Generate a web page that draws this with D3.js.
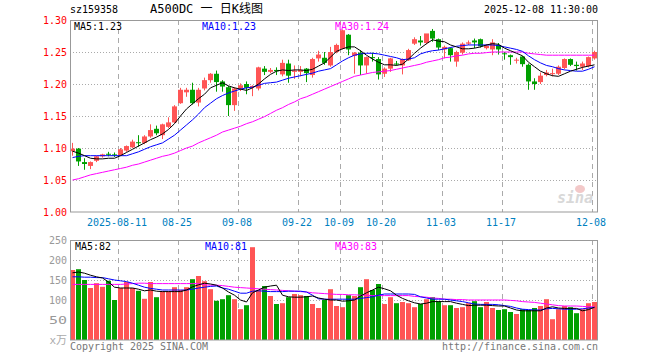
<!DOCTYPE html>
<html><head><meta charset="utf-8">
<script src="https://cdn.jsdelivr.net/npm/d3@7"></script>
<style>
html,body{margin:0;padding:0;background:#fff;}
svg{display:block;}
text{font-family:"DejaVu Sans Mono","Liberation Mono","Noto Sans CJK SC",monospace;}
</style></head>
<body>
<svg id="c" width="660" height="360"></svg>
<script>
const dates = ["07-30","07-31","08-01","08-04","08-05","08-06","08-07","08-08",
"08-11","08-12","08-13","08-14","08-15","08-18","08-19","08-20","08-21","08-22",
"08-25","08-26","08-27","08-28","08-29","09-01","09-02","09-03","09-04","09-05",
"09-08","09-09","09-10","09-11","09-12","09-15","09-16","09-17","09-18","09-19",
"09-22","09-23","09-24","09-25","09-26","09-29","09-30","10-09","10-10",
"10-13","10-14","10-15","10-16","10-17","10-20","10-21","10-22","10-23","10-24",
"10-27","10-28","10-29","10-30","10-31","11-03","11-04","11-05","11-06","11-07",
"11-10","11-11","11-12","11-13","11-14","11-17","11-18","11-19","11-20","11-21",
"11-24","11-25","11-26","11-27","11-28","12-01","12-02","12-03","12-04","12-05","12-08"];

const open  = [1.095,1.099,1.078,1.072,1.080,1.087,1.091,1.090,1.089,1.096,1.101,1.109,1.108,1.118,1.130,1.120,1.133,1.140,1.170,1.187,1.191,1.171,1.193,1.206,1.216,1.204,1.195,1.167,1.193,1.200,1.195,1.193,1.224,1.219,1.222,1.215,1.232,1.219,1.219,1.224,1.214,1.240,1.241,1.229,1.250,1.255,1.277,1.244,1.249,1.229,1.242,1.239,1.216,1.224,1.232,1.229,1.237,1.263,1.268,1.264,1.283,1.270,1.254,1.256,1.235,1.249,1.263,1.268,1.270,1.256,1.254,1.261,1.248,1.245,1.237,1.243,1.230,1.204,1.203,1.214,1.216,1.216,1.225,1.239,1.230,1.227,1.228,1.240];
const high  = [1.108,1.100,1.084,1.079,1.088,1.091,1.094,1.093,1.100,1.104,1.113,1.120,1.120,1.137,1.135,1.138,1.148,1.167,1.194,1.194,1.202,1.194,1.210,1.217,1.221,1.206,1.197,1.195,1.201,1.204,1.198,1.227,1.228,1.225,1.226,1.238,1.238,1.229,1.228,1.225,1.241,1.252,1.250,1.258,1.263,1.285,1.278,1.250,1.253,1.243,1.249,1.242,1.226,1.241,1.236,1.240,1.255,1.273,1.275,1.278,1.286,1.271,1.260,1.257,1.252,1.265,1.268,1.271,1.271,1.262,1.270,1.264,1.250,1.246,1.241,1.244,1.232,1.209,1.218,1.222,1.224,1.229,1.240,1.240,1.235,1.235,1.243,1.252];
const low   = [1.088,1.072,1.066,1.067,1.078,1.085,1.087,1.086,1.088,1.094,1.100,1.102,1.106,1.116,1.120,1.114,1.131,1.139,1.169,1.180,1.168,1.165,1.190,1.202,1.188,1.188,1.150,1.158,1.189,1.184,1.181,1.190,1.214,1.217,1.214,1.212,1.202,1.208,1.212,1.203,1.210,1.235,1.230,1.227,1.248,1.254,1.245,1.216,1.214,1.216,1.235,1.207,1.211,1.219,1.229,1.215,1.236,1.261,1.260,1.262,1.266,1.253,1.240,1.235,1.227,1.246,1.261,1.256,1.257,1.254,1.245,1.246,1.238,1.230,1.232,1.227,1.191,1.191,1.200,1.212,1.212,1.214,1.223,1.228,1.221,1.222,1.226,1.238];
const close = [1.099,1.079,1.075,1.078,1.087,1.090,1.090,1.089,1.098,1.103,1.110,1.108,1.118,1.128,1.123,1.137,1.140,1.165,1.191,1.191,1.170,1.191,1.206,1.216,1.203,1.196,1.167,1.193,1.198,1.194,1.197,1.226,1.219,1.222,1.220,1.233,1.213,1.221,1.222,1.217,1.239,1.246,1.233,1.250,1.261,1.284,1.254,1.249,1.229,1.242,1.241,1.215,1.224,1.240,1.231,1.239,1.253,1.270,1.265,1.279,1.271,1.257,1.258,1.245,1.250,1.263,1.265,1.265,1.259,1.260,1.265,1.254,1.247,1.242,1.238,1.231,1.204,1.200,1.213,1.218,1.217,1.227,1.239,1.230,1.228,1.232,1.242,1.250];

const ma5  = [1.095,1.092,1.088,1.084,1.083,1.083,1.084,1.084,1.088,1.093,1.098,1.103,1.108,1.113,1.117,1.122,1.129,1.138,1.150,1.161,1.169,1.177,1.184,1.194,1.198,1.202,1.197,1.194,1.192,1.190,1.194,1.200,1.208,1.215,1.220,1.222,1.221,1.222,1.222,1.221,1.223,1.228,1.233,1.242,1.251,1.255,1.258,1.258,1.252,1.245,1.239,1.234,1.230,1.230,1.229,1.231,1.239,1.248,1.256,1.263,1.269,1.267,1.266,1.261,1.258,1.255,1.255,1.256,1.258,1.261,1.263,1.262,1.256,1.252,1.248,1.244,1.234,1.227,1.220,1.216,1.213,1.212,1.216,1.220,1.223,1.226,1.228,1.230];
const ma10 = [1.085,1.087,1.088,1.088,1.088,1.088,1.088,1.088,1.088,1.088,1.091,1.094,1.098,1.102,1.105,1.108,1.114,1.120,1.128,1.136,1.144,1.153,1.163,1.170,1.177,1.182,1.186,1.189,1.192,1.194,1.195,1.198,1.201,1.202,1.203,1.206,1.209,1.211,1.213,1.215,1.217,1.220,1.222,1.224,1.230,1.236,1.241,1.245,1.247,1.248,1.248,1.247,1.245,1.243,1.241,1.238,1.239,1.241,1.247,1.250,1.252,1.253,1.255,1.257,1.259,1.260,1.261,1.261,1.261,1.261,1.261,1.260,1.258,1.256,1.254,1.251,1.244,1.238,1.233,1.229,1.227,1.224,1.222,1.221,1.220,1.220,1.223,1.227];
const ma30 = [1.050,1.052,1.055,1.058,1.060,1.062,1.064,1.066,1.068,1.070,1.073,1.075,1.078,1.081,1.084,1.087,1.089,1.092,1.096,1.100,1.103,1.108,1.112,1.116,1.120,1.125,1.128,1.131,1.134,1.138,1.141,1.145,1.149,1.154,1.159,1.163,1.168,1.172,1.177,1.180,1.184,1.188,1.192,1.196,1.200,1.204,1.208,1.212,1.214,1.216,1.218,1.219,1.220,1.221,1.223,1.225,1.227,1.229,1.231,1.234,1.236,1.238,1.241,1.242,1.244,1.245,1.247,1.248,1.248,1.249,1.250,1.250,1.250,1.250,1.250,1.250,1.248,1.247,1.246,1.245,1.245,1.245,1.245,1.245,1.245,1.245,1.245,1.245];

const volume = [175,177,150,130,142,133,148,100,130,145,130,123,103,145,107,122,122,132,125,132,152,160,147,127,98,102,112,102,77,87,232,125,135,110,90,92,107,115,112,110,90,80,100,127,85,82,112,110,132,152,125,140,90,107,92,95,92,82,90,102,107,97,87,87,80,82,92,97,82,95,80,75,77,70,65,77,75,80,85,102,52,77,85,82,67,77,92,95];
const vma5  = [168,170,167,162,158,155,145,132,130,130,130,127,123,125,122,121,121,121,121,125,133,138,142,140,137,130,120,112,100,95,118,125,132,135,137,112,108,107,107,108,110,105,102,100,100,97,98,100,110,118,125,132,128,123,112,104,98,93,90,92,96,96,96,96,92,89,86,87,87,87,86,85,85,80,75,73,73,73,73,80,83,80,79,79,79,73,76,82];
const vma10 = [158,158,157,157,156,156,153,150,148,146,142,137,132,129,127,125,125,125,125,125,127,130,132,134,135,130,127,122,117,117,122,123,122,121,121,121,122,122,122,120,112,103,102,102,102,102,102,102,104,106,108,112,115,115,115,115,115,114,108,105,102,102,102,100,98,96,93,90,89,89,89,88,86,84,80,77,76,75,75,78,79,78,77,77,77,78,80,81];
const vma30 = [139,139,139,139,139,139,139,139,139,140,141,142,142,141,141,141,141,141,141,141,141,141,138,137,137,136,134,132,131,130,129,128,127,126,125,124,123,122,121,120,118,117,116,115,114,114,113,113,112,112,111,111,111,111,111,111,111,109,108,107,105,104,102,102,101,101,100,100,100,100,100,100,100,99,98,96,95,94,92,90,88,86,85,85,85,84,83,83];

const tickDates  = ["08-11","08-25","09-08","09-22","10-09","10-20","11-03","11-17","12-08"];
const tickLabels = ["2025-08-11","08-25","09-08","09-22","10-09","10-20","11-03","11-17","12-08"];
const priceTicks = [1.00,1.05,1.10,1.15,1.20,1.25,1.30];
const volTicks = [50,100,150,200,250];

const RED = "#ff5555", GREEN = "#00a000", GRID = "#aaaaaa";
const svg = d3.select("#c");
const L = 70, R = 598;
const x = d3.scaleBand().domain(dates).range([L, R]).padding(0);
const yP = d3.scaleLinear().domain([1.00, 1.30]).range([212, 20]);
const yV = d3.scaleLinear().domain([0, 250]).range([340, 240]);
const bw = x.bandwidth() - 1;

function mono(sel, str, xx, yy, anchor, color, w) {
  const t = svg.append("text").attr("x", xx).attr("y", yy).attr("text-anchor", anchor || "start")
    .attr("fill", color || "#000").attr("font-size", 11).text(str);
  if (w) t.attr("textLength", w).attr("lengthAdjust", "spacingAndGlyphs");
  return t;
}
// title
mono(svg, "sz159358", 70, 13, "start", "#000", 48);
svg.append("text").attr("x", 150).attr("y", 13).attr("font-size", 12).attr("fill", "#000")
  .attr("font-family", "'Noto Sans CJK SC','DejaVu Sans Mono',monospace").text("A500DC 一 日K线图");
mono(svg, "2025-12-08 11:30:00", 598, 13, "end", "#000", 114);

// price grid
const gP = svg.append("g");
gP.selectAll("line.h").data(priceTicks.filter(t => t > 1.0 && t < 1.3)).enter().append("line")
  .attr("x1", L).attr("x2", R).attr("y1", d => Math.round(yP(d)) + 0.5).attr("y2", d => Math.round(yP(d)) + 0.5)
  .attr("stroke", GRID).attr("stroke-dasharray", "1,2");
gP.selectAll("line.v").data(tickDates).enter().append("line")
  .attr("x1", d => x(d) + 0.5).attr("x2", d => x(d) + 0.5).attr("y1", 20).attr("y2", 212)
  .attr("stroke", GRID).attr("stroke-dasharray", "5,4");
// volume grid
const gV = svg.append("g");
gV.selectAll("line.h").data(volTicks.filter(t => t < 250)).enter().append("line")
  .attr("x1", L).attr("x2", R).attr("y1", d => Math.round(yV(d)) + 0.5).attr("y2", d => Math.round(yV(d)) + 0.5)
  .attr("stroke", GRID).attr("stroke-dasharray", "1,2");
gV.selectAll("line.v").data(tickDates).enter().append("line")
  .attr("x1", d => x(d) + 0.5).attr("x2", d => x(d) + 0.5).attr("y1", 240).attr("y2", 340)
  .attr("stroke", GRID).attr("stroke-dasharray", "5,4");

// watermark
const wm = svg.append("g");
wm.append("ellipse").attr("cx", 580).attr("cy", 189).attr("rx", 5).attr("ry", 4).attr("fill", "#f3c9c9");
wm.append("text").attr("x", 593).attr("y", 203).attr("text-anchor", "end").attr("font-size", 15)
  .attr("font-weight", "bold").attr("font-style", "italic").attr("fill", "#d8d8d8")
  .attr("font-family", "'DejaVu Sans',sans-serif").text("sina");

// candles
const idx = d3.range(dates.length);
const gc = svg.append("g");
gc.selectAll("rect.w").data(idx).enter().append("rect")
  .attr("x", i => x(dates[i]) + 2).attr("width", 1)
  .attr("y", i => yP(high[i])).attr("height", i => Math.max(1, yP(low[i]) - yP(high[i])))
  .attr("fill", i => close[i] >= open[i] ? RED : GREEN);
gc.selectAll("rect.b").data(idx).enter().append("rect")
  .attr("x", i => x(dates[i])).attr("width", bw)
  .attr("y", i => yP(Math.max(open[i], close[i])))
  .attr("height", i => Math.max(1, Math.abs(yP(open[i]) - yP(close[i]))))
  .attr("fill", i => close[i] >= open[i] ? RED : GREEN);

function maLine(data, yS, color) {
  svg.append("path").datum(data).attr("fill", "none").attr("stroke", color).attr("stroke-width", 1)
    .attr("d", d3.line().x((d, i) => x(dates[i]) + 2.5).y(d => yS(d)));
}
maLine(ma30, yP, "#ff00ff");
maLine(ma10, yP, "#0000ff");
maLine(ma5, yP, "#000000");

// volume bars
svg.append("g").selectAll("rect").data(idx).enter().append("rect")
  .attr("x", i => x(dates[i])).attr("width", bw)
  .attr("y", i => yV(volume[i])).attr("height", i => yV(0) - yV(volume[i]))
  .attr("fill", i => close[i] >= open[i] ? RED : GREEN);
maLine(vma30, yV, "#ff00ff");
maLine(vma10, yV, "#0000ff");
maLine(vma5, yV, "#000000");

// borders
svg.append("rect").attr("x", 70.5).attr("y", 20.5).attr("width", 527).attr("height", 191.5)
  .attr("fill", "none").attr("stroke", "#999");
svg.append("rect").attr("x", 70.5).attr("y", 240.5).attr("width", 527).attr("height", 99.5)
  .attr("fill", "none").attr("stroke", "#999");

// axis labels
svg.append("g").selectAll("text").data(priceTicks).enter().append("text")
  .attr("x", 67).attr("y", d => yP(d) + 4).attr("text-anchor", "end").attr("font-size", 11)
  .attr("fill", "#ff0000").attr("textLength", 24).attr("lengthAdjust", "spacingAndGlyphs")
  .text(d => d.toFixed(2));
svg.append("g").selectAll("text").data(volTicks).enter().append("text")
  .attr("x", 67).attr("y", d => yV(d) + 4).attr("text-anchor", "end").attr("font-size", 11)
  .attr("fill", "#999").attr("textLength", 18).attr("lengthAdjust", "spacingAndGlyphs")
  .text(d => d);
svg.append("text").attr("x", 67).attr("y", 344).attr("text-anchor", "end").attr("font-size", 11)
  .attr("fill", "#aaa").attr("font-family", "'Noto Sans CJK SC',monospace").text("x万");
svg.append("g").selectAll("text").data(tickDates).enter().append("text")
  .attr("x", d => x(d) - 1).attr("y", 226).attr("text-anchor", "middle").attr("font-size", 11)
  .attr("fill", "#0080c0")
  .attr("textLength", (d, i) => tickLabels[i].length * 6).attr("lengthAdjust", "spacingAndGlyphs")
  .text((d, i) => tickLabels[i]);

// legends
const last = dates.length - 1;
mono(svg, "MA5:" + ma5[last].toFixed(2), 74, 30, "start", "#000", 48);
mono(svg, "MA10:" + ma10[last].toFixed(2), 202, 30, "start", "#0000ff", 54);
mono(svg, "MA30:" + (1.24).toFixed(2), 335, 30, "start", "#ff00ff", 54);
mono(svg, "MA5:" + vma5[last], 75, 250, "start", "#000", 36);
mono(svg, "MA10:" + vma10[last], 205, 250, "start", "#0000ff", 42);
mono(svg, "MA30:" + vma30[last], 335, 250, "start", "#ff00ff", 42);

// footer
mono(svg, "Copyright 2025 SINA.COM", 70, 350, "start", "#777", 138);
mono(svg, "http://finance.sina.com.cn", 598, 350, "end", "#777", 156);
</script>
</body></html>
